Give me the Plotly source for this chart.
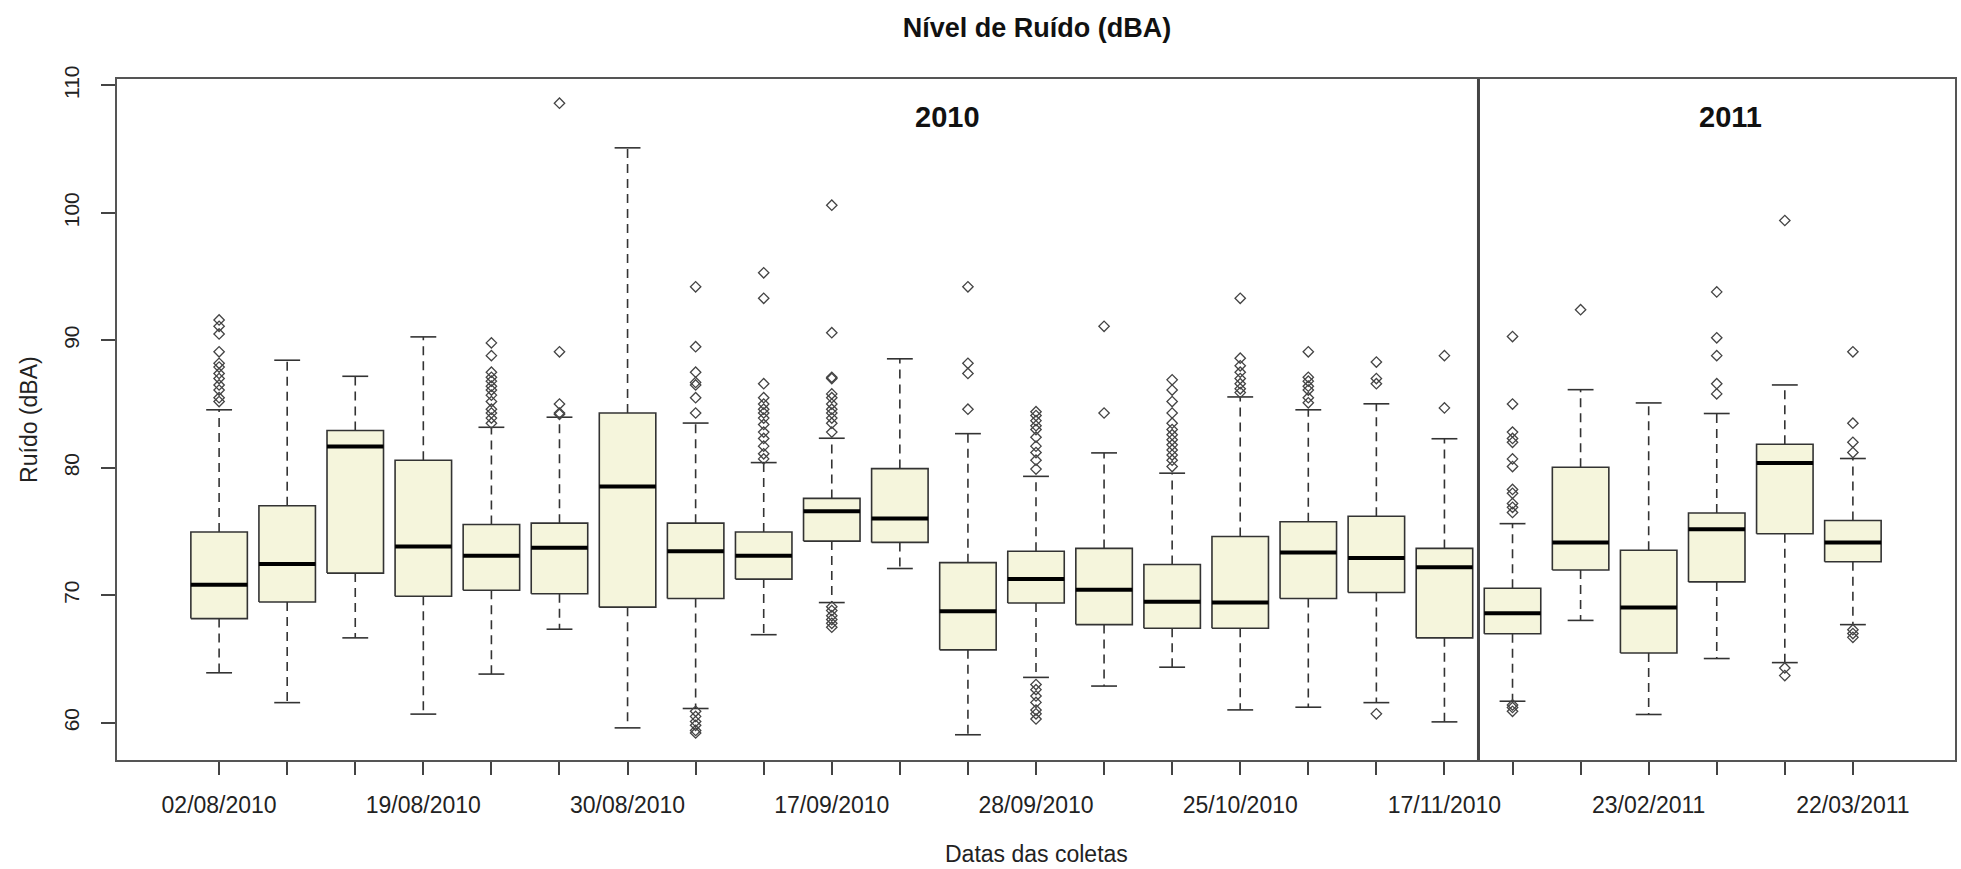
import plotly.graph_objects as go

# ---------------- data ----------------
tick_labels = ["02/08/2010", "", "", "19/08/2010", "", "", "30/08/2010", "", "",
               "17/09/2010", "", "", "28/09/2010", "", "", "25/10/2010", "", "",
               "17/11/2010", "", "", "23/02/2011", "", "", "22/03/2011"]
positions = list(range(1, 26))

q1 = [68.17, 69.47, 71.74, 69.93, 70.40, 70.12, 69.07, 69.75, 71.27, 74.25, 74.15, 65.72, 69.40,
      67.70, 67.42, 67.42, 69.75, 70.22, 66.66, 66.98, 71.99, 65.47, 71.05, 74.83, 72.63]
median = [70.83, 72.45, 81.67, 73.82, 73.10, 73.72, 78.54, 73.46, 73.10, 76.59, 76.02, 68.75, 71.27,
          70.44, 69.50, 69.43, 73.35, 72.92, 72.20, 68.60, 74.15, 69.04, 75.19, 80.37, 74.15]
q3 = [74.97, 77.03, 82.93, 80.59, 75.55, 75.66, 84.30, 75.66, 74.97, 77.60, 79.94, 72.56, 73.46,
      73.68, 72.42, 74.61, 75.77, 76.20, 73.68, 70.55, 80.05, 73.53, 76.45, 81.85, 75.87]
whisk_low = [63.92, 61.58, 66.66, 60.68, 63.82, 67.34, 59.60, 61.12, 66.91, 69.43, 72.10, 59.06, 63.56,
             62.88, 64.36, 61.01, 61.22, 61.58, 60.07, 61.69, 68.03, 60.65, 65.04, 64.72, 67.70]
whisk_high = [84.55, 88.44, 87.18, 90.27, 83.18, 83.97, 105.1, 83.51, 80.41, 82.32, 88.55, 82.68, 79.33,
              81.17, 79.58, 85.56, 84.55, 85.02, 82.28, 75.62, 86.13, 85.09, 84.26, 86.50, 80.73]
outliers = [
    [91.6, 91.1, 90.5, 89.1, 88.2, 87.9, 87.4, 87.0, 86.5, 86.1, 85.5, 85.2],
    [],
    [],
    [],
    [89.8, 88.8, 87.5, 87.1, 86.8, 86.4, 86.1, 85.7, 85.2, 84.6, 84.3, 83.9, 83.5],
    [108.6, 89.1, 85.0, 84.3, 84.2],
    [],
    [94.2, 89.5, 87.5, 86.7, 86.5, 85.5, 84.3, 60.9, 60.5, 60.1, 59.8, 59.4, 59.2],
    [95.3, 93.3, 86.6, 85.5, 85.0, 84.6, 84.3, 83.9, 83.4, 82.8, 82.3, 81.7, 81.1, 80.7],
    [100.6, 90.6, 87.1, 87.0, 85.8, 85.5, 85.0, 84.6, 84.3, 83.9, 83.5, 82.8,
     69.1, 68.8, 68.4, 68.1, 67.8, 67.5],
    [],
    [94.2, 88.2, 87.4, 84.6],
    [84.4, 84.1, 83.7, 83.3, 83.0, 82.4, 81.7, 81.2, 80.6, 79.9,
     63.0, 62.6, 62.1, 61.6, 61.0, 60.7, 60.3],
    [91.1, 84.3],
    [86.9, 86.1, 85.2, 84.3, 83.5, 83.0, 82.6, 82.2, 81.8, 81.4, 81.0, 80.6, 80.1],
    [93.3, 88.6, 88.0, 87.5, 87.0, 86.6, 86.2, 85.9],
    [89.1, 87.1, 86.8, 86.4, 86.1, 85.5, 85.1],
    [88.3, 87.0, 86.6, 60.7],
    [88.8, 84.7],
    [90.3, 85.0, 82.8, 82.3, 82.0, 80.7, 80.1, 78.3, 78.0, 77.2, 76.9, 76.5, 61.4, 61.2, 60.9],
    [92.4],
    [],
    [93.8, 90.2, 88.8, 86.6, 85.8],
    [99.4, 64.3, 63.7],
    [89.1, 83.5, 82.0, 81.2, 67.3, 67.0, 66.7],
]
year_labels = ["2010", "2011"]
year_label_x = [11.7, 23.2]
year_label_y = [107.5, 107.5]
year_split = 19.5

# ---------------- style ----------------
FONT = "Liberation Sans, Arial, sans-serif"
BOX_FILL = "#F5F5DC"
HALF = 0.415
CAP = 0.19

# build geometry from the data
wx, wy, bx, by, cx, cy, mx, my, ox, oy = [], [], [], [], [], [], [], [], [], []
for i, p in enumerate(positions):
    wx += [p, p, None, p, p, None]
    wy += [q3[i], whisk_high[i], None, q1[i], whisk_low[i], None]
    bx += [p - HALF, p + HALF, p + HALF, p - HALF, p - HALF, None]
    by += [q1[i], q1[i], q3[i], q3[i], q1[i], None]
    cx += [p - CAP, p + CAP, None, p - CAP, p + CAP, None]
    cy += [whisk_high[i], whisk_high[i], None, whisk_low[i], whisk_low[i], None]
    mx += [p - HALF, p + HALF, None]
    my += [median[i], median[i], None]
    for v in outliers[i]:
        ox.append(p)
        oy.append(v)

fig = go.Figure()
fig.add_trace(go.Scatter(x=wx, y=wy, mode="lines", hoverinfo="skip",
                         line=dict(color="#333333", width=1.6, dash="9px,6px")))
fig.add_trace(go.Scatter(x=cx, y=cy, mode="lines", hoverinfo="skip",
                         line=dict(color="#333333", width=1.6)))
fig.add_trace(go.Scatter(x=bx, y=by, mode="lines", fill="toself", fillcolor=BOX_FILL,
                         line=dict(color="#333333", width=1.6), hoverinfo="skip"))
fig.add_trace(go.Scatter(x=mx, y=my, mode="lines", hoverinfo="skip",
                         line=dict(color="#000000", width=4)))
fig.add_trace(go.Scatter(x=ox, y=oy, mode="markers",
                         marker=dict(symbol="diamond-open", size=8, color="#444444",
                                     line=dict(width=1.3, color="#444444"))))

fig.add_shape(type="line", x0=year_split, x1=year_split, y0=0, y1=1, xref="x", yref="paper",
              line=dict(color="#444444", width=3))

for t, x, y in zip(year_labels, year_label_x, year_label_y):
    fig.add_annotation(x=x, y=y, text="<b>%s</b>" % t, showarrow=False,
                       font=dict(family=FONT, size=29, color="#111111"),
                       xanchor="center", yanchor="middle")

fig.add_annotation(x=0.5, y=(760 - 854) / 681, xref="paper", yref="paper",
                   text="Datas das coletas", showarrow=False,
                   font=dict(family=FONT, size=23, color="#222222"),
                   xanchor="center", yanchor="middle")
fig.add_annotation(x=(28 - 116.7) / 1840.3, y=0.5, xref="paper", yref="paper",
                   text="Ruído (dBA)", showarrow=False, textangle=-90,
                   font=dict(family=FONT, size=23, color="#222222"),
                   xanchor="center", yanchor="middle")

fig.update_layout(
    width=1961, height=869,
    margin=dict(l=117, r=4, t=79, b=109),
    paper_bgcolor="white", plot_bgcolor="white",
    showlegend=False,
    title=dict(text="<b>Nível de Ruído (dBA)</b>", x=1037 / 1961, xanchor="center",
               y=1 - 28 / 869, yanchor="middle", yref="container",
               font=dict(family=FONT, size=27, color="#111111")),
    font=dict(family=FONT, color="#222222"),
)
fig.update_xaxes(range=[-0.5, 26.5], tickmode="array", tickvals=positions, ticktext=tick_labels,
                 ticks="outside", ticklen=13, tickwidth=1.5, tickcolor="#444444",
                 showline=True, mirror=True, linecolor="#555555", linewidth=2,
                 showgrid=False, zeroline=False, ticklabelstandoff=10,
                 tickfont=dict(family=FONT, size=23, color="#222222"))
fig.update_yaxes(range=[57.08, 110.5], tickmode="array", tickvals=[60, 70, 80, 90, 100, 110],
                 ticks="outside", ticklen=14, tickwidth=1.5, tickcolor="#444444",
                 showline=True, mirror=True, linecolor="#555555", linewidth=2,
                 showgrid=False, zeroline=False, tickangle=-90, ticklabelstandoff=14,
                 tickfont=dict(family=FONT, size=21, color="#222222"))

fig.write_html("out.html", config={"displayModeBar": False},
               post_script="document.body.style.margin='0';document.body.style.overflow='hidden';")
